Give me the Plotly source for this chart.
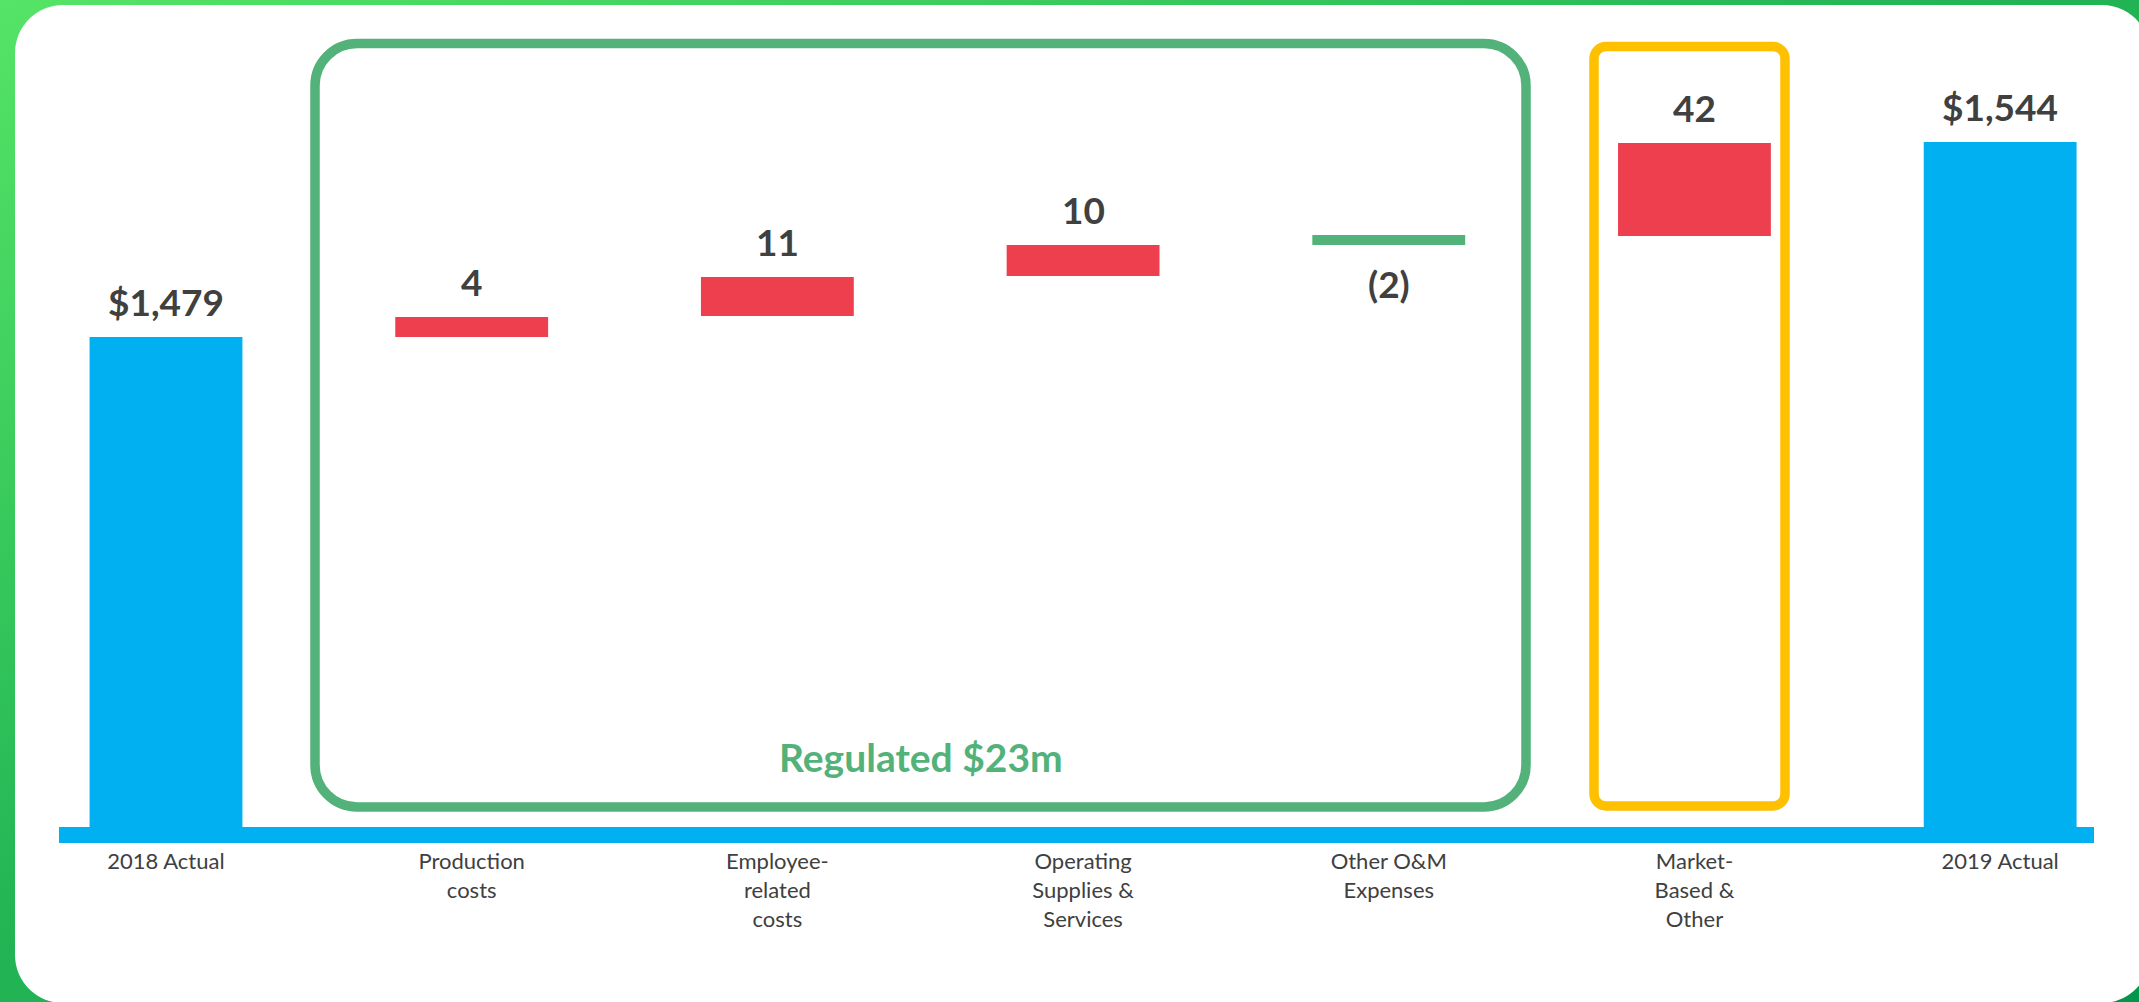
import base64
import plotly.graph_objects as go

# ---------------- data ----------------
categories = ["2018 Actual", "Production costs", "Employee-related costs",
              "Operating Supplies & Services", "Other O&M Expenses",
              "Market-Based & Other", "2019 Actual"]
tick_labels = ["2018 Actual", "Production<br>costs", "Employee-<br>related<br>costs",
               "Operating<br>Supplies &<br>Services", "Other O&M<br>Expenses",
               "Market-<br>Based &<br>Other", "2019 Actual"]
value_labels = ["$1,479", "4", "11", "10", "(2)", "42", "$1,544"]
# levels ($m) at which each drawn bar starts and ends
bar_start = [0, 1479, 1486, 1499.3, 1513, 1512.7, 0]
bar_end = [1479, 1485.7, 1499, 1509.7, 1509.7, 1543.7, 1544]
bar_kind = ["total", "up", "up", "up", "down", "up", "total"]
group_label = "Regulated $23m"

# ---------------- style ----------------
BLUE = "#00B0F0"
RED = "#EE3F4E"
GREEN = "#52B27A"
YELLOW = "#FFC000"
TEXT = "#404040"
kind_color = {"total": BLUE, "up": RED, "down": GREEN}

W, H = 2139, 1002
ML, MR, MT, MB = 59, 45, 5, 175
PW, PH = W - ML - MR, H - MT - MB
Y_MIN, Y_MAX = 1315.667, 1589.667
X_RANGE = [-0.35, 6.307]


def px_x(px):
    return (px - ML) / PW


def px_y(py):
    return (H - MB - py) / PH


def rounded_path(x0, y0, x1, y1, r):
    """rounded rectangle in pixel coords -> paper path"""
    k = 0.5523 * r
    pts = []
    pts.append(f"M{px_x(x0 + r)},{px_y(y0)}")
    pts.append(f"L{px_x(x1 - r)},{px_y(y0)}")
    pts.append(f"C{px_x(x1 - r + k)},{px_y(y0)} {px_x(x1)},{px_y(y0 + r - k)} {px_x(x1)},{px_y(y0 + r)}")
    pts.append(f"L{px_x(x1)},{px_y(y1 - r)}")
    pts.append(f"C{px_x(x1)},{px_y(y1 - r + k)} {px_x(x1 - r + k)},{px_y(y1)} {px_x(x1 - r)},{px_y(y1)}")
    pts.append(f"L{px_x(x0 + r)},{px_y(y1)}")
    pts.append(f"C{px_x(x0 + r - k)},{px_y(y1)} {px_x(x0)},{px_y(y1 - r + k)} {px_x(x0)},{px_y(y1 - r)}")
    pts.append(f"L{px_x(x0)},{px_y(y0 + r)}")
    pts.append(f"C{px_x(x0)},{px_y(y0 + r - k)} {px_x(x0 + r - k)},{px_y(y0)} {px_x(x0 + r)},{px_y(y0)}")
    pts.append("Z")
    return " ".join(pts)


heights = [e - s for s, e in zip(bar_start, bar_end)]
colors = [kind_color[k] for k in bar_kind]

fig = go.Figure()
fig.add_trace(go.Bar(
    x=categories, y=heights, base=bar_start,
    marker=dict(color=colors, line=dict(width=0)),
    width=0.5, hoverinfo="skip", showlegend=False,
))

# value labels
annotations = []
for cat, lab, s, e, k in zip(categories, value_labels, bar_start, bar_end, bar_kind):
    if k == "down":
        annotations.append(dict(x=cat, y=min(s, e), xref="x", yref="y", text=lab,
                                showarrow=False, yanchor="top", yshift=-14,
                                font=dict(family="Lato", size=37, color=TEXT, weight="bold")))
    else:
        annotations.append(dict(x=cat, y=max(s, e), xref="x", yref="y", text=lab,
                                showarrow=False, yanchor="bottom", yshift=11,
                                font=dict(family="Lato", size=37, color=TEXT, weight="bold")))

annotations.append(dict(x=px_x(921), y=px_y(757), xref="paper", yref="paper",
                        text=group_label, showarrow=False, xanchor="center", yanchor="middle",
                        font=dict(family="Lato", size=39, color=GREEN, weight="bold")))

# background gradient
svg = (f'<svg xmlns="http://www.w3.org/2000/svg" width="{W}" height="{H}" '
       f'viewBox="0 0 {W} {H}" preserveAspectRatio="none"><defs>'
       '<linearGradient id="g" x1="0" y1="0" x2="1" y2="1">'
       '<stop offset="0" stop-color="#55e466"/><stop offset="0.45" stop-color="#24b655"/>'
       '<stop offset="1" stop-color="#03954a"/></linearGradient></defs>'
       f'<rect width="{W}" height="{H}" fill="url(#g)"/></svg>')
src = "data:image/svg+xml;base64," + base64.b64encode(svg.encode()).decode()

shapes = [
    dict(type="path", xref="paper", yref="paper", path=rounded_path(15, 5, 2150, 1003, 48),
         fillcolor="white", line=dict(width=0), layer="below"),
    dict(type="path", xref="paper", yref="paper", path=rounded_path(315, 43.5, 1526, 807, 42),
         fillcolor="rgba(0,0,0,0)", line=dict(color=GREEN, width=9.5), layer="below"),
    dict(type="path", xref="paper", yref="paper", path=rounded_path(1594, 46.5, 1785, 806, 12),
         fillcolor="rgba(0,0,0,0)", line=dict(color=YELLOW, width=9.5), layer="below"),
]

fig.update_layout(
    template="none",
    width=W, height=H,
    margin=dict(l=ML, r=MR, t=MT, b=MB, pad=0),
    paper_bgcolor="#24b655",
    plot_bgcolor="rgba(0,0,0,0)",
    showlegend=False,
    shapes=shapes,
    annotations=annotations,
    images=[dict(source=src, xref="paper", yref="paper", x=-ML / PW, y=1 + MT / PH,
                 sizex=W / PW, sizey=H / PH, xanchor="left", yanchor="top",
                 sizing="stretch", layer="below")],
    xaxis=dict(type="category", range=X_RANGE, tickvals=categories, ticktext=tick_labels,
               showgrid=False, zeroline=False, showline=True, linecolor=BLUE, linewidth=16,
               ticks="", tickfont=dict(family="Lato", size=22, color=TEXT),
               automargin=False, fixedrange=True),
    yaxis=dict(range=[Y_MIN, Y_MAX], visible=False, showgrid=False, zeroline=False,
               automargin=False, fixedrange=True),
    font=dict(family="Lato", color=TEXT),
)

fig.write_html("out.html", config={"displayModeBar": False},
               post_script="document.body.style.margin='0';document.body.style.overflow='hidden';")
